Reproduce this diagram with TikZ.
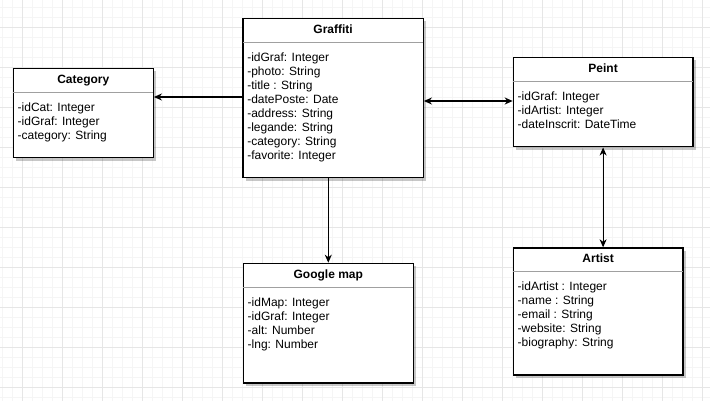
\documentclass[tikz,border=0pt]{standalone}
\usepackage{fontspec}
\setmainfont{Liberation Sans}
\usetikzlibrary{calc,arrows.meta,shadows}

\definecolor{gridmajor}{HTML}{E6E6E6}
\definecolor{gridminor}{HTML}{F5F5F5}
\definecolor{sepgray}{HTML}{A0A0A0}

\tikzset{
  classbox/.style={draw=black, line width=1.2pt, fill=white, rectangle, inner sep=0pt,
    anchor=north west,
    drop shadow={shadow xshift=3pt, shadow yshift=-3pt, fill=black, opacity=0.22}},
  classtitle/.style={anchor=base, inner sep=0pt, font=\fontsize{12}{14}\selectfont\bfseries},
  classbody/.style={anchor=north west, inner sep=0pt, align=left, font=\fontsize{12}{14}\selectfont},
  sepline/.style={draw=sepgray, line width=1pt},
  conn/.style={draw=black, line width=1.2pt},
  tipA/.tip={Stealth[length=8pt,width=7pt,inset=2.5pt]},
  gminor/.style={draw=gridminor, line width=0.6pt},
  gmajor/.style={draw=gridmajor, line width=0.8pt},
}

\newcommand{\umlclass}[7]{%
  \node[classbox, minimum width=#4pt, minimum height=#5pt] (#1) at (#2,#3) {};
  \node[classtitle] (#1-t) at ($(#1.north)+(0,15.5)$) {#6};
  \draw[sepline] ($(#1.north west)+(0.6,24.6)$) -- ($(#1.north east)+(-0.6,24.6)$);
  \node[classbody] (#1-b) at ($(#1.north west)+(4.8,34.6)$) {#7};
}

\begin{document}
\begin{tikzpicture}[x=1pt,y=-1pt]
  \useasboundingbox (0,0) rectangle (710,401);
  \fill[white] (0,0) rectangle (710,401);
  % grid
  \foreach \x in {2.3,12.3,...,709} \draw[gminor] (\x,0) -- (\x,401);
  \foreach \y in {7.3,17.3,...,400} \draw[gminor] (0,\y) -- (710,\y);
  \foreach \x in {22.3,62.3,...,709} \draw[gmajor] (\x,0) -- (\x,401);
  \foreach \y in {27.3,67.3,...,400} \draw[gmajor] (0,\y) -- (710,\y);

  % classes
  \umlclass{cat}{12.7}{67.7}{140}{89.3}{Category}%
    {-idCat: Integer\\-idGraf: Integer\\-category: String}
  \umlclass{graf}{242.3}{17.7}{180.4}{159.3}{Graffiti}%
    {-idGraf: Integer\\-photo: String\\-title : String\\-datePoste: Date\\-address: String\\-legande: String\\-category: String\\-favorite: Integer}
  \umlclass{peint}{512.7}{56.7}{179.6}{89.6}{Peint}%
    {-idGraf: Integer\\-idArtist: Integer\\-dateInscrit: DateTime}
  \umlclass{gmap}{242.7}{262.7}{170}{119.6}{Google map}%
    {-idMap: Integer\\-idGraf: Integer\\-alt: Number\\-lng: Number}
  \umlclass{artist}{512.7}{247.3}{169.6}{127}{Artist}%
    {-idArtist : Integer\\-name : String\\-email : String\\-website: String\\-biography: String}

  % connectors
  \draw[conn, -tipA] (graf.west |- 0,97) -- (cat.east |- 0,97);
  \draw[conn, tipA-tipA] (graf.east |- 0,101) -- (peint.west |- 0,101);
  \draw[conn, -tipA] (gmap.north |- graf.south) -- (gmap.north);
  \draw[conn, tipA-tipA] (peint.south) -- (peint.south |- artist.north);
\end{tikzpicture}
\end{document}
